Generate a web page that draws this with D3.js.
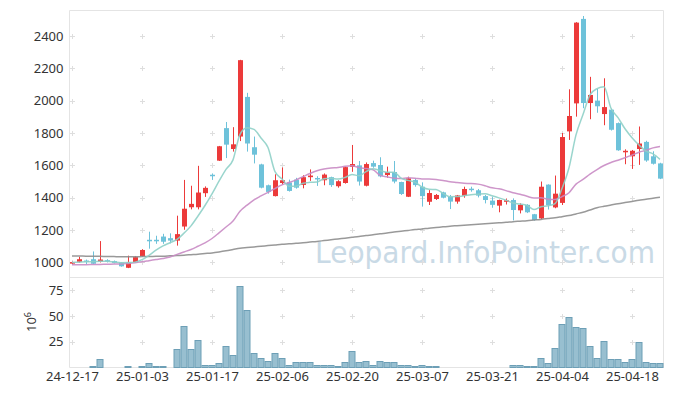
<!DOCTYPE html>
<html>
<head>
<meta charset="utf-8">
<script src="https://cdn.jsdelivr.net/npm/d3@7"></script>
<style>
  body { margin: 0; background: #fff; }
  svg { display: block; }
  .tick text { font-family: "Noto Sans", sans-serif; font-size: 13px; fill: #333; }
</style>
</head>
<body>
<div id="chart"></div>
<script>
// trading days (yy-mm-dd)
const dates = [
  "24-12-17","24-12-18","24-12-19","24-12-20","24-12-23","24-12-24","24-12-26","24-12-27","24-12-30","25-01-02",
  "25-01-03","25-01-06","25-01-07","25-01-08","25-01-09","25-01-10","25-01-13","25-01-14","25-01-15","25-01-16",
  "25-01-17","25-01-20","25-01-21","25-01-22","25-01-23","25-01-24","25-01-31","25-02-03","25-02-04","25-02-05",
  "25-02-06","25-02-07","25-02-10","25-02-11","25-02-12","25-02-13","25-02-14","25-02-17","25-02-18","25-02-19",
  "25-02-20","25-02-21","25-02-24","25-02-25","25-02-26","25-02-27","25-02-28","25-03-04","25-03-05","25-03-06",
  "25-03-07","25-03-10","25-03-11","25-03-12","25-03-13","25-03-14","25-03-17","25-03-18","25-03-19","25-03-20",
  "25-03-21","25-03-24","25-03-25","25-03-26","25-03-27","25-03-28","25-03-31","25-04-01","25-04-02","25-04-03",
  "25-04-04","25-04-07","25-04-08","25-04-09","25-04-10","25-04-11","25-04-14","25-04-15","25-04-16","25-04-17",
  "25-04-18","25-04-21","25-04-22","25-04-23","25-04-24"
];

const open = [
  995,1004,1012,1020,1005,1014,1008,1000,967,1000,
  1040,1140,1140,1160,1150,1135,1222,1341,1341,1428,
  1542,1629,1830,1701,1778,2023,1712,1606,1477,1410,
  1491,1494,1512,1479,1527,1522,1508,1527,1471,1491,
  1591,1600,1474,1614,1602,1540,1559,1497,1406,1509,
  1468,1375,1392,1433,1406,1376,1412,1456,1446,1410,
  1382,1351,1378,1386,1322,1356,1298,1272,1481,1340,
  1368,1810,1983,2505,1985,2000,1917,1944,1861,1683,
  1656,1701,1745,1656,1612
];
const high = [
  1005,1035,1018,1068,1132,1020,1012,1003,1042,1040,
  1082,1190,1165,1177,1180,1289,1510,1474,1597,1470,
  1550,1720,1868,1836,2252,2048,1778,1610,1481,1545,
  1587,1512,1523,1539,1575,1533,1550,1530,1508,1592,
  1726,1627,1618,1629,1650,1592,1627,1499,1530,1520,
  1495,1447,1423,1437,1417,1417,1468,1468,1454,1417,
  1404,1388,1395,1396,1366,1360,1300,1500,1483,1537,
  1800,2070,2485,2523,2147,2072,2138,1950,1865,1699,
  1695,1840,1752,1687,1616
];
const low = [
  990,998,990,990,1000,1000,994,974,965,998,
  1035,1085,1115,1115,1118,1104,1202,1328,1328,1405,
  1510,1627,1645,1685,1750,1685,1612,1458,1425,1408,
  1481,1438,1456,1458,1504,1473,1477,1467,1462,1487,
  1560,1475,1470,1585,1526,1524,1489,1417,1404,1468,
  1345,1355,1386,1396,1330,1363,1400,1437,1402,1365,
  1338,1310,1358,1260,1303,1305,1258,1268,1327,1335,
  1355,1757,1901,1953,1885,1925,1848,1815,1690,1607,
  1578,1603,1622,1605,1515
];
const close = [
  1002,1020,1004,992,1018,1006,997,976,1000,1033,
  1077,1135,1135,1128,1135,1175,1332,1362,1432,1461,
  1535,1718,1728,1730,2250,1735,1666,1462,1436,1508,
  1508,1442,1462,1527,1537,1515,1543,1478,1502,1589,
  1608,1500,1608,1592,1532,1559,1500,1423,1520,1478,
  1410,1429,1417,1400,1376,1414,1454,1452,1413,1386,
  1356,1386,1384,1324,1356,1310,1262,1468,1354,1425,
  1775,1905,2482,1985,2035,1965,1960,1820,1693,1690,
  1690,1735,1630,1610,1518
];

// volume, millions of shares
const volume = [
  0.3,0.3,0.3,1.2,7.8,0.3,0.3,0.3,1.0,0.3,
  1.0,4.0,1.0,1.0,0.3,17.6,40.0,17.6,26.4,2.0,
  2.0,4.0,20.5,11.7,79.5,55.7,14.0,8.8,5.9,13.7,
  8.8,2.9,4.9,4.9,4.9,2.0,2.0,2.0,1.0,4.9,
  15.6,4.9,5.9,2.0,5.9,4.9,4.9,2.0,2.0,1.0,
  2.9,1.0,1.0,0.3,0.8,0.8,0.8,0.8,0.8,0.8,
  0.8,0.3,0.8,2.0,2.0,1.0,1.0,8.8,4.0,18.6,
  42.0,48.9,39.0,38.0,20.5,8.8,25.4,7.8,7.8,4.9,
  7.8,24.4,4.9,4.0,4.0
];

// moving averages as drawn on the chart
const ma5 = [
  1000,1002,1004,1005,1007,1008,1003,998,999,1002,
  1017,1044,1076,1102,1122,1142,1181,1226,1287,1352,
  1424,1502,1575,1634,1792,1832,1822,1769,1710,1561,
  1516,1471,1471,1489,1495,1497,1517,1520,1515,1525,
  1544,1535,1561,1579,1568,1558,1558,1521,1507,1496,
  1466,1452,1451,1427,1406,1407,1412,1419,1422,1424,
  1412,1399,1385,1367,1361,1352,1327,1344,1350,1364,
  1457,1585,1788,1914,2036,2074,2085,1953,1895,1826,
  1771,1726,1688,1671,1637
];
const ma20 = [
  985,986,986,987,988,989,990,991,994,998,
  1004,1011,1018,1025,1034,1050,1065,1080,1100,1121,
  1148,1183,1219,1256,1317,1354,1387,1411,1433,1457,
  1479,1494,1510,1530,1550,1567,1578,1584,1587,1594,
  1597,1586,1580,1573,1538,1529,1520,1518,1523,1521,
  1516,1516,1513,1507,1499,1494,1489,1488,1484,1474,
  1461,1455,1444,1431,1422,1409,1398,1400,1391,1389,
  1407,1431,1484,1513,1546,1574,1599,1618,1632,1647,
  1663,1681,1693,1708,1716
];
const ma120 = [
  1040,1040,1039,1039,1038,1037,1036,1035,1035,1035,
  1036,1037,1038,1039,1041,1043,1045,1048,1051,1055,
  1059,1065,1072,1080,1088,1092,1096,1100,1104,1108,
  1112,1115,1118,1122,1126,1130,1135,1140,1145,1150,
  1155,1160,1166,1171,1177,1182,1188,1193,1198,1203,
  1207,1212,1216,1220,1224,1227,1230,1233,1236,1239,
  1242,1245,1248,1252,1255,1258,1262,1266,1271,1276,
  1283,1290,1300,1310,1324,1338,1347,1355,1363,1370,
  1377,1384,1390,1397,1403
];

const priceTicks = [1000, 1200, 1400, 1600, 1800, 2000, 2200, 2400];
const volTicks = [25, 50, 75];
const dateTicks = dates.filter((d, i) => i % 10 === 0);

const W = 673, H = 396;
const plotLeft = 69.5, plotRight = 663.5, plotTop = 10.5, plotSplit = 277.5, plotBottom = 367.5;

const svg = d3.select("#chart").append("svg")
    .attr("width", W)
    .attr("height", H);

const x = d3.scalePoint()
    .domain(dates)
    .range([plotLeft - 1, plotRight])
    .padding(0.5);

const y = d3.scaleLinear()
    .domain([907, 2560])
    .range([plotSplit, plotTop - 0.5]);

const yv = d3.scaleLinear()
    .domain([0, 87.3])
    .range([plotBottom, plotSplit]);

// watermark
svg.append("text")
    .attr("x", 315)
    .attr("y", 263)
    .attr("textLength", 340)
    .attr("lengthAdjust", "spacingAndGlyphs")
    .style("font-family", "'DejaVu Sans', sans-serif")
    .style("font-size", "31px")
    .style("fill", "#c9dae6")
    .text("Leopard.InfoPointer.com");

// frame
const frame = svg.append("g")
    .attr("stroke", "#e4e4e4")
    .attr("stroke-width", 1);
frame.append("line").attr("x1", plotLeft).attr("x2", plotRight).attr("y1", plotTop).attr("y2", plotTop);
frame.append("line").attr("x1", plotLeft).attr("x2", plotRight).attr("y1", plotSplit).attr("y2", plotSplit);
frame.append("line").attr("x1", plotLeft).attr("x2", plotRight).attr("y1", plotBottom).attr("y2", plotBottom);
frame.append("line").attr("x1", plotLeft).attr("x2", plotLeft).attr("y1", plotTop).attr("y2", plotBottom);
frame.append("line").attr("x1", plotRight).attr("x2", plotRight).attr("y1", plotTop).attr("y2", plotBottom);

// grid crosses
function crosses(levels, scale) {
    const pts = [];
    dateTicks.forEach(d => levels.forEach(v => pts.push([x(d), scale(v)])));
    svg.append("g")
        .selectAll("path")
        .data(pts)
        .enter()
        .append("path")
        .attr("d", d => "M" + (d[0] - 2) + "," + (Math.round(d[1]) + 0.5) + "h5M" + (d[0] + 0.5) + "," + (Math.round(d[1]) - 2) + "v5")
        .attr("stroke", "#dedede")
        .attr("stroke-width", 1);
}
crosses(priceTicks, y);
crosses(volTicks, yv);

// axes
const yAxis = svg.append("g")
    .attr("transform", "translate(" + plotLeft + ",0)")
    .call(d3.axisLeft(y).tickValues(priceTicks).tickFormat(d3.format("d")).tickSize(0).tickPadding(6));
yAxis.select(".domain").remove();

const vAxis = svg.append("g")
    .attr("transform", "translate(" + plotLeft + ",0)")
    .call(d3.axisLeft(yv).tickValues(volTicks).tickFormat(d3.format("d")).tickSize(0).tickPadding(6));
vAxis.select(".domain").remove();

const xAxis = svg.append("g")
    .attr("transform", "translate(0," + plotBottom + ")")
    .call(d3.axisBottom(x).tickValues(dateTicks).tickSize(0).tickPadding(4));
xAxis.select(".domain").remove();

svg.append("text")
    .attr("transform", "translate(36,322) rotate(-90)")
    .attr("text-anchor", "middle")
    .style("font-family", "'Noto Sans', sans-serif")
    .style("font-size", "13px")
    .style("fill", "#333")
    .text("10")
    .append("tspan")
    .attr("dy", "-5")
    .style("font-size", "9px")
    .text("6");

// volume bars
svg.append("g")
    .selectAll("rect")
    .data(volume)
    .enter()
    .append("rect")
    .attr("x", (d, i) => x(dates[i]) - 3)
    .attr("y", d => Math.round(yv(d)) + 0.5)
    .attr("width", 6)
    .attr("height", d => Math.max(0, plotBottom - Math.round(yv(d)) - 0.5))
    .attr("fill", "#98bfd0")
    .attr("stroke", "#6d9fb6")
    .attr("stroke-width", 1);

// candles
const up = "#ec3a3a", down = "#6ec2da";
const candles = svg.append("g")
    .selectAll("g")
    .data(dates)
    .enter()
    .append("g");

candles.append("line")
    .attr("x1", (d, i) => x(d) + 0.5)
    .attr("x2", (d, i) => x(d) + 0.5)
    .attr("y1", (d, i) => y(high[i]))
    .attr("y2", (d, i) => y(low[i]))
    .attr("stroke", (d, i) => close[i] >= open[i] ? up : down)
    .attr("stroke-width", 1);

candles.append("rect")
    .attr("x", (d, i) => x(d) - 2)
    .attr("width", 5)
    .attr("y", (d, i) => y(Math.max(open[i], close[i])))
    .attr("height", (d, i) => Math.max(1.5, Math.abs(y(open[i]) - y(close[i]))))
    .attr("fill", (d, i) => close[i] >= open[i] ? up : down);

// moving average lines
const line = d3.line()
    .x((d, i) => x(dates[i]))
    .y(d => y(d))
    .curve(d3.curveMonotoneX);

[[ma120, "#8e8e8e"], [ma20, "#c98bc4"], [ma5, "#8fd0c8"]].forEach(s => {
    svg.append("path")
        .datum(s[0])
        .attr("d", line)
        .attr("fill", "none")
        .attr("stroke", s[1])
        .attr("stroke-width", 1.5)
        .attr("stroke-opacity", 0.9);
});
</script>
</body>
</html>
